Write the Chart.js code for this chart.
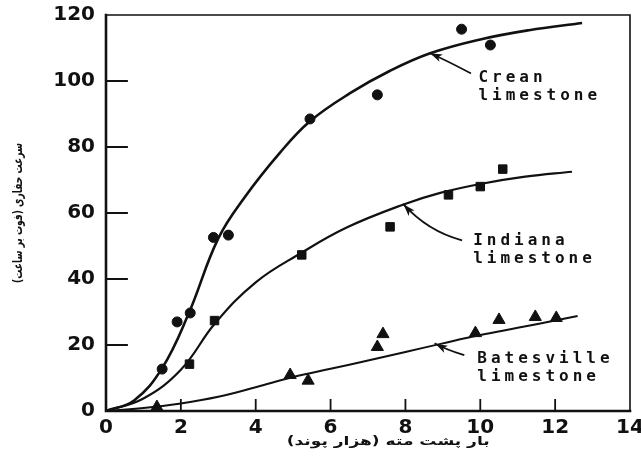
<!DOCTYPE html>
<html>
<head>
<meta charset="utf-8">
<script src="https://cdn.jsdelivr.net/npm/chart.js@4.4.0/dist/chart.umd.min.js"></script>
<style>
  html, body { margin: 0; padding: 0; background: #fff; }
  #wrap { width: 641px; height: 456px; }
</style>
</head>
<body>
<div id="wrap"><canvas id="chart"></canvas></div>
<script>
// measured points (load in 1000 lb, rate in ft/h)
const creanLoad = [1.5, 1.9, 2.25, 2.87, 3.27, 5.45, 7.25, 9.5, 10.27];
const creanRate = [12.7, 27, 29.7, 52.6, 53.3, 88.5, 95.8, 115.7, 110.9];

const indianaLoad = [2.23, 2.9, 5.23, 7.59, 9.15, 10.0, 10.6];
const indianaRate = [14.2, 27.4, 47.3, 55.8, 65.5, 68, 73.3];

const batesLoad = [1.36, 4.92, 5.4, 7.25, 7.4, 9.87, 10.5, 11.47, 12.03];
const batesRate = [1.2, 10.9, 9.2, 19.4, 23.3, 23.6, 27.6, 28.5, 28.2];

// fitted curves
const creanCurveX = [0, 0.75, 1.5, 2.2, 3.0, 3.72, 4.65, 5.45, 6.52, 7.59, 8.66, 10, 11.3, 12.72];
const creanCurveY = [0, 3.2, 13, 29.3, 52.3, 65, 78.3, 87.8, 96.3, 103.1, 108.4, 112.6, 115.4, 117.6];

const indianaCurveX = [0, 1, 2, 2.91, 4, 5.2, 6.43, 7.95, 8.93, 10, 11.2, 12.45];
const indianaCurveY = [0, 3.8, 12.5, 26.5, 39, 47.8, 55.6, 62.6, 66.1, 68.8, 71, 72.5];

const batesCurveX = [0, 1, 2, 3, 4, 5, 6, 7, 8, 9, 10, 11, 12, 12.6];
const batesCurveY = [0, 0.9, 2.3, 4.3, 7.2, 10.3, 12.8, 15.3, 17.9, 20.5, 23, 25.2, 27.4, 28.8];

const xTickValues = [0, 2, 4, 6, 8, 10, 12, 14];
const yTickValues = [0, 20, 40, 60, 80, 100, 120];

const xTitle = "بار پشت مته (هزار پوند)";
const yTitle = "سرعت حفاری (فوت بر ساعت)";

// curve labels: text lines, text anchor, arrow tail, bend and tip (data units)
const curveLabels = [
  { lines: ["Crean", "limestone"], at: [9.95, 99.7], tail: [9.73, 102.4], bend: [9.1, 106.2], tip: [8.66, 108.4] },
  { lines: ["Indiana", "limestone"], at: [9.81, 50.3], tail: [9.49, 51.8], bend: [8.6, 54.5], tip: [7.95, 62.6] },
  { lines: ["Batesville", "limestone"], at: [9.92, 14.5], tail: [9.55, 17.0], bend: [9.1, 18.6], tip: [8.8, 20.4] },
];

const ink = "#111";

const toXY = (xs, ys) => xs.map((x, i) => ({ x: x, y: ys[i] }));

function curve(xs, ys, width) {
  return {
    type: "line",
    data: toXY(xs, ys),
    borderColor: ink,
    borderWidth: width,
    pointRadius: 0,
    tension: 0.4,
    fill: false,
  };
}

function marks(xs, ys, style, radius) {
  return {
    type: "scatter",
    data: toXY(xs, ys),
    pointStyle: style,
    pointRadius: radius,
    pointBackgroundColor: ink,
    pointBorderColor: ink,
    pointBorderWidth: 1,
    showLine: false,
  };
}

// draw text squeezed or stretched to a given width
function fitText(ctx, text, x, y, width) {
  const w = ctx.measureText(text).width;
  ctx.save();
  ctx.translate(x, y);
  ctx.scale(width / w, 1);
  ctx.fillText(text, 0, 0);
  ctx.restore();
}

const framePlugin = {
  id: "frame",
  afterDraw(chart) {
    const { ctx, chartArea: a, scales } = chart;
    const xs = scales.x, ys = scales.y;
    ctx.save();
    ctx.strokeStyle = ink;
    ctx.lineCap = "square";

    // box, heavier on the left and bottom
    ctx.lineWidth = 1.6;
    ctx.beginPath();
    ctx.moveTo(a.left, a.top);
    ctx.lineTo(a.right, a.top);
    ctx.lineTo(a.right, a.bottom);
    ctx.stroke();
    ctx.lineWidth = 2.6;
    ctx.beginPath();
    ctx.moveTo(a.left, a.top);
    ctx.lineTo(a.left, a.bottom);
    ctx.lineTo(a.right, a.bottom);
    ctx.stroke();

    // inward tick marks
    ctx.lineWidth = 1.8;
    ctx.beginPath();
    yTickValues.slice(1, -1).forEach((v) => {
      const py = ys.getPixelForValue(v);
      ctx.moveTo(a.left, py);
      ctx.lineTo(a.left + 21, py);
    });
    xTickValues.slice(1, -1).forEach((v) => {
      const px = xs.getPixelForValue(v);
      ctx.moveTo(px, a.bottom);
      ctx.lineTo(px, a.bottom - 11);
    });
    ctx.stroke();

    // axis titles
    ctx.fillStyle = ink;
    ctx.textAlign = "center";
    ctx.textBaseline = "middle";
    ctx.font = "bold 12px 'DejaVu Sans'";
    fitText(ctx, xTitle, xs.getPixelForValue(7.54), 442, 203);
    ctx.save();
    ctx.translate(19, ys.getPixelForValue(60));
    ctx.rotate(-Math.PI / 2);
    ctx.font = "bold 13px 'DejaVu Sans'";
    fitText(ctx, yTitle, 0, 0, 140);
    ctx.restore();

    // curve labels with arrows
    ctx.font = "bold 16px 'DejaVu Sans Mono'";
    ctx.textAlign = "left";
    ctx.textBaseline = "alphabetic";
    ctx.letterSpacing = "4px";
    curveLabels.forEach((c) => {
      const tx = xs.getPixelForValue(c.at[0]);
      const ty = ys.getPixelForValue(c.at[1]);
      c.lines.forEach((line, i) => ctx.fillText(line, tx, ty + i * 18));

      const t0 = [xs.getPixelForValue(c.tail[0]), ys.getPixelForValue(c.tail[1])];
      const b = [xs.getPixelForValue(c.bend[0]), ys.getPixelForValue(c.bend[1])];
      const t1 = [xs.getPixelForValue(c.tip[0]), ys.getPixelForValue(c.tip[1])];
      ctx.lineWidth = 1.8;
      ctx.beginPath();
      ctx.moveTo(t0[0], t0[1]);
      ctx.quadraticCurveTo(b[0], b[1], t1[0], t1[1]);
      ctx.stroke();

      const ang = Math.atan2(t1[1] - b[1], t1[0] - b[0]);
      ctx.save();
      ctx.translate(t1[0], t1[1]);
      ctx.rotate(ang);
      ctx.beginPath();
      ctx.moveTo(0, 0);
      ctx.lineTo(-12, -4);
      ctx.lineTo(-9, 0);
      ctx.lineTo(-12, 4);
      ctx.closePath();
      ctx.fill();
      ctx.restore();
    });
    ctx.restore();
  },
};

const tickFont = { family: "'DejaVu Sans'", size: 20, weight: "bold" };

new Chart(document.getElementById("chart"), {
  data: {
    datasets: [
      curve(creanCurveX, creanCurveY, 2.6),
      curve(indianaCurveX, indianaCurveY, 2.2),
      curve(batesCurveX, batesCurveY, 2),
      marks(creanLoad, creanRate, "circle", 5),
      marks(indianaLoad, indianaRate, "rect", 6),
      marks(batesLoad, batesRate, "triangle", 7),
    ],
  },
  options: {
    responsive: true,
    maintainAspectRatio: false,
    animation: false,
    events: [],
    layout: { padding: { top: 15, right: 11, left: 0, bottom: 0 } },
    plugins: { legend: { display: false }, tooltip: { enabled: false } },
    scales: {
      x: {
        type: "linear",
        min: 0,
        max: 14,
        afterBuildTicks: (s) => { s.ticks = xTickValues.map((v) => ({ value: v })); },
        afterFit: (s) => { s.height = 45; s.paddingLeft = 0; s.paddingRight = 0; },
        ticks: { color: ink, font: tickFont, padding: 5, maxRotation: 0 },
        grid: { display: false, drawTicks: false, tickLength: 0 },
        border: { display: false },
      },
      y: {
        type: "linear",
        min: 0,
        max: 120,
        afterBuildTicks: (s) => { s.ticks = yTickValues.map((v) => ({ value: v })); },
        afterFit: (s) => { s.width = 106; s.paddingTop = 0; s.paddingBottom = 0; },
        ticks: { color: ink, font: tickFont, padding: 11 },
        grid: { display: false, drawTicks: false, tickLength: 0 },
        border: { display: false },
      },
    },
  },
  plugins: [framePlugin],
});
</script>
</body>
</html>
